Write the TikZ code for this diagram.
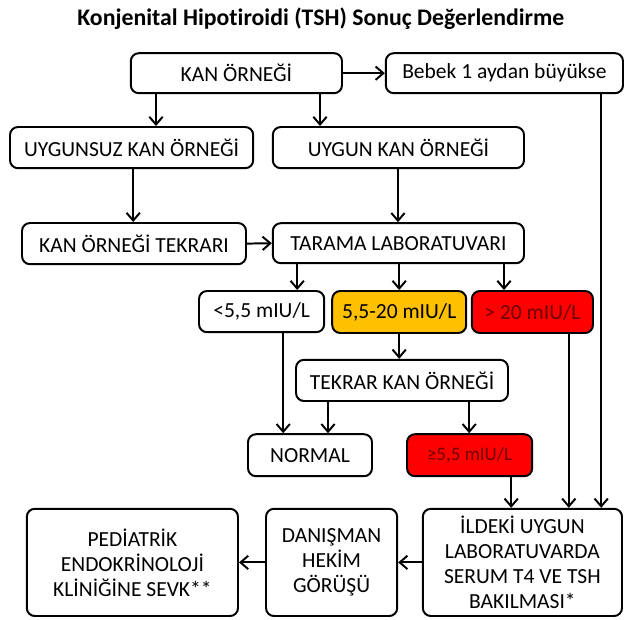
\documentclass[tikz,border=0pt]{standalone}
\usepackage{fontspec}
\setmainfont{Carlito}[Ligatures=NoCommon]
\usetikzlibrary{arrows.meta}

\definecolor{turuncu}{RGB}{255,192,0}
\definecolor{kirmizi}{RGB}{255,0,0}
\definecolor{koyukirmizi}{RGB}{110,0,0}

\tikzset{
    kutu/.style={draw, line width=1.4pt, rounded corners=0.2cm, align=center, inner sep=2pt,
        font=\fontsize{15.3}{17.8}\selectfont},
    ok/.style={line width=1.4pt, -{Straight Barb[length=5.5pt, width=9.5pt]}}
}

\begin{document}
\begin{tikzpicture}
            \useasboundingbox (0, 0) rectangle (15.6, -15.475);
            \node[font=\fontsize{16.9}{20}\selectfont\bfseries] (baslik) at (8.02, -0.475) {Konjenital Hipotiroidi (TSH) Sonuç Değerlendirme};
            \node[kutu, minimum width=5.28cm, minimum height=1cm] (kan) at (5.91, -1.83) {KAN ÖRNEĞİ};
            \node[kutu, minimum width=5.93cm, minimum height=1cm] (bebek) at (12.61, -1.83) {Bebek 1 aydan büyükse};
            \node[kutu, minimum width=6.08cm, minimum height=1.03cm] (uygunsuz) at (3.29, -3.69) {UYGUNSUZ KAN ÖRNEĞİ};
            \node[kutu, minimum width=6.28cm, minimum height=1.03cm] (uygun) at (9.96, -3.69) {UYGUN KAN ÖRNEĞİ};
            \node[kutu, minimum width=5.6cm, minimum height=1.03cm] (tekrari) at (3.35, -6.09) {KAN ÖRNEĞİ TEKRARI};
            \node[kutu, minimum width=6.28cm, minimum height=1cm] (tarama) at (9.96, -6.08) {TARAMA LABORATUVARI};
            \node[kutu, minimum width=3.13cm, minimum height=1.03cm] (dusuk) at (6.54, -7.79) {<5,5 mIU/L};
            \node[kutu, fill=turuncu, minimum width=3.35cm, minimum height=1.05cm] (orta) at (9.98, -7.8) {5,5-20 mIU/L};
            \node[kutu, fill=kirmizi, text=koyukirmizi, minimum width=3.03cm, minimum height=1.05cm] (yuksek) at (13.31, -7.8) {> 20 mIU/L};
            \node[kutu, minimum width=5.3cm, minimum height=1.03cm] (tekrar) at (10.05, -9.51) {TEKRAR KAN ÖRNEĞİ};
            \node[kutu, minimum width=3.1cm, minimum height=1.05cm] (normal) at (7.75, -11.38) {NORMAL};
            \node[kutu, fill=kirmizi, text=koyukirmizi, font=\fontsize{13.5}{16}\selectfont, minimum width=3.13cm, minimum height=1.05cm] (ileri) at (11.74, -11.38) {≥5,5 mIU/L};
            \node[kutu, minimum width=4.98cm, minimum height=2.68cm] (serum) at (13.06, -14.06) {İLDEKİ UYGUN\\LABORATUVARDA\\SERUM T4 VE TSH\\BAKILMASI*};
            \node[kutu, minimum width=3.28cm, minimum height=2.68cm] (danisman) at (8.29, -14.06) {DANIŞMAN\\HEKİM\\GÖRÜŞÜ};
            \node[kutu, minimum width=5.28cm, minimum height=2.68cm] (pediatrik) at (3.31, -14.06) {PEDİATRİK\\ENDOKRİNOLOJİ\\KLİNİĞİNE SEVK**};

            \draw[ok] (kan.east) -- (bebek.west);
            \draw[ok] (3.9, 0 |- kan.south) -- (3.9, 0 |- uygunsuz.north);
            \draw[ok] (8, 0 |- kan.south) -- (8, 0 |- uygun.north);
            \draw[ok] (3.33, 0 |- uygunsuz.south) -- (3.33, 0 |- tekrari.north);
            \draw[ok] (9.95, 0 |- uygun.south) -- (9.95, 0 |- tarama.north);
            \draw[ok] (tekrari.east) -- (tarama.west);
            \draw[ok] (7.43, 0 |- tarama.south) -- (7.43, 0 |- dusuk.north);
            \draw[ok] (9.98, 0 |- tarama.south) -- (9.98, 0 |- orta.north);
            \draw[ok] (12.6, 0 |- tarama.south) -- (12.6, 0 |- yuksek.north);
            \draw[ok] (9.98, 0 |- orta.south) -- (9.98, 0 |- tekrar.north);
            \draw[ok] (7.08, 0 |- dusuk.south) -- (7.08, 0 |- normal.north);
            \draw[ok] (8.2, 0 |- tekrar.south) -- (8.2, 0 |- normal.north);
            \draw[ok] (11.73, 0 |- tekrar.south) -- (11.73, 0 |- ileri.north);
            \draw[ok] (12.78, 0 |- ileri.south) -- (12.78, 0 |- serum.north);
            \draw[ok] (14.22, 0 |- yuksek.south) -- (14.22, 0 |- serum.north);
            \draw[ok] (15.03, 0 |- bebek.south) -- (15.03, 0 |- serum.north);
            \draw[ok] (serum.west) -- (danisman.east);
            \draw[ok] (danisman.west) -- (pediatrik.east);
\end{tikzpicture}
\end{document}
